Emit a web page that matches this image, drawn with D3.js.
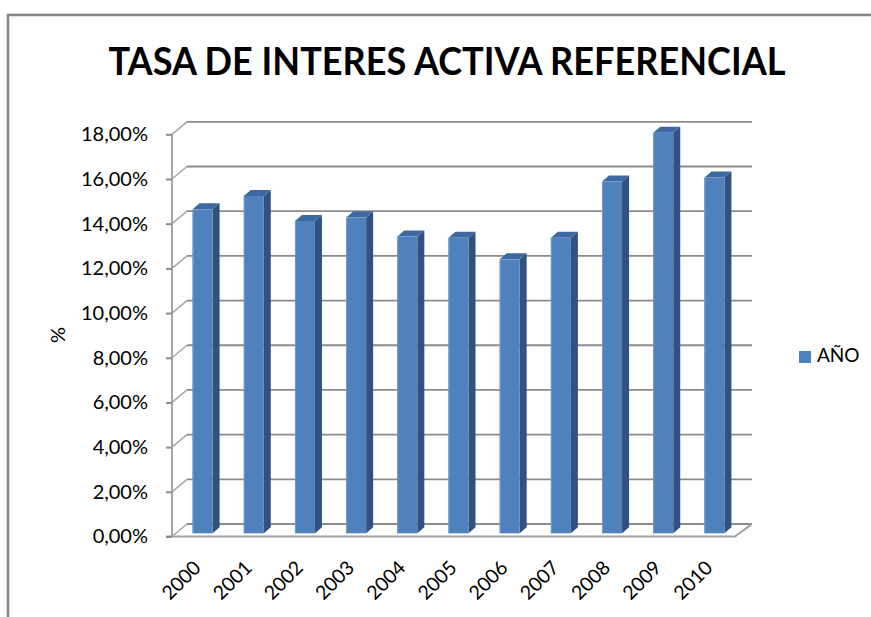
<!DOCTYPE html>
<html>
<head>
<meta charset="utf-8">
<script src="https://cdn.jsdelivr.net/npm/d3@7"></script>
<style>
  body { margin: 0; background: #fff; }
  text { font-family: Lato, "Open Sans", sans-serif; fill: #000; }
</style>
</head>
<body>
<div id="chart"></div>
<script>
// data
const years = ["2000", "2001", "2002", "2003", "2004", "2005", "2006", "2007", "2008", "2009", "2010"];
const rates = [14.50, 15.10, 13.98, 14.13, 13.28, 13.23, 12.26, 13.23, 15.74, 17.93, 15.92];
const yTicks = [0, 2, 4, 6, 8, 10, 12, 14, 16, 18];
const seriesName = "AÑO";
const chartTitle = "TASA DE INTERES ACTIVA REFERENCIAL";
const yTitle = "%";

const width = 871, height = 617;
const depth = { dx: 15, dy: -12.5 };   // back wall offset
const bar = { w: 20, side: 7, top: -6, sx: 5, sy: -3.2 };

const svg = d3.select("#chart").append("svg")
  .attr("width", width)
  .attr("height", height);

// outer chart border (only top and left are visible)
svg.append("path")
  .attr("d", `M8,${height} V15 H${width}`)
  .attr("fill", "none")
  .attr("stroke", "#868686")
  .attr("stroke-width", 2.5);

svg.append("text")
  .attr("x", 447)
  .attr("y", 75)
  .attr("text-anchor", "middle")
  .attr("font-size", 38)
  .attr("font-weight", "bold")
  .attr("textLength", 677)
  .attr("lengthAdjust", "spacingAndGlyphs")
  .text(chartTitle);

let x = d3.scaleBand()
  .domain(years)
  .range([172, 735]);

let y = d3.scaleLinear()
  .domain([0, 18])
  .range([536.5, 134.3]);

// back wall gridlines + side wall diagonals
let grid = svg.append("g");
for (let t of yTicks) {
  let yf = y(t);
  grid.append("path")
    .attr("d", `M172,${yf} L${172 + depth.dx},${yf + depth.dy}`)
    .attr("fill", "none")
    .attr("stroke", "#a6a6a6")
    .attr("stroke-width", 1.5);
  grid.append("line")
    .attr("x1", 172 + depth.dx).attr("x2", 735 + depth.dx + 2)
    .attr("y1", yf + depth.dy).attr("y2", yf + depth.dy)
    .attr("stroke", "#8c8c8c")
    .attr("stroke-width", 1.8);
}

// floor front edge + right edge
grid.append("path")
  .attr("d", `M166,${y(0)} H735 L${735 + depth.dx + 2},${y(0) + depth.dy}`)
  .attr("fill", "none")
  .attr("stroke", "#a0a0a0")
  .attr("stroke-width", 2);

// front vertical axis line
grid.append("line")
  .attr("x1", 172).attr("x2", 172)
  .attr("y1", y(18)).attr("y2", y(0))
  .attr("stroke", "#a6a6a6")
  .attr("stroke-width", 2);

// y axis ticks + labels
const fmt = d3.formatLocale({ decimal: ",", thousands: ".", grouping: [3], currency: ["", ""] }).format(".2f");
let yAxis = svg.append("g")
  .attr("transform", "translate(172,0)")
  .call(d3.axisLeft(y).tickValues(yTicks).tickSize(6).tickPadding(18).tickFormat(d => fmt(d) + "%"));
yAxis.select(".domain").remove();
yAxis.selectAll(".tick line").attr("stroke", "#8c8c8c").attr("stroke-width", 2);
yAxis.selectAll(".tick text")
  .attr("font-size", 20)
  .attr("font-family", "Lato, sans-serif")
  .attr("fill", "#000");

// bars (3D look)
let bars = svg.append("g");
years.forEach((yr, i) => {
  let x0 = x(yr) + x.bandwidth() / 2 - bar.w / 2 + bar.sx;
  let x1 = x0 + bar.w;
  let yb = y(0) + bar.sy;
  let yt = y(rates[i]) + bar.sy;
  bars.append("polygon")
    .attr("points", [[x1, yt], [x1 + bar.side, yt + bar.top], [x1 + bar.side, yb + bar.top], [x1, yb]].join(" "))
    .attr("fill", "#2f5281");
  bars.append("polygon")
    .attr("points", [[x0, yt], [x0 + bar.side, yt + bar.top], [x1 + bar.side, yt + bar.top], [x1, yt]].join(" "))
    .attr("fill", "#3d68a2");
  bars.append("rect")
    .attr("x", x0).attr("y", yt)
    .attr("width", bar.w).attr("height", yb - yt)
    .attr("fill", "#4f81bd");
  bars.append("line")
    .attr("x1", x0 + 0.5).attr("x2", x0 + 0.5)
    .attr("y1", yt).attr("y2", yb)
    .attr("stroke", "#6f9ad0")
    .attr("stroke-width", 1);
});

// x axis labels
let xAxis = svg.append("g")
  .attr("transform", `translate(0,${y(0)})`)
  .call(d3.axisBottom(x).tickSize(0));
xAxis.select(".domain").remove();
xAxis.selectAll(".tick text")
  .attr("font-size", 19.5)
  .attr("font-family", "Lato, sans-serif")
  .attr("fill", "#000")
  .attr("text-anchor", "end")
  .attr("x", 0).attr("y", 0).attr("dy", 0)
  .attr("transform", "translate(4.4,32.5) rotate(-45)");

// y axis title
svg.append("text")
  .attr("transform", "translate(65,335) rotate(-90)")
  .attr("text-anchor", "middle")
  .attr("font-size", 20)
  .text(yTitle);

// legend
svg.append("rect")
  .attr("x", 799).attr("y", 351)
  .attr("width", 12).attr("height", 12)
  .attr("fill", "#4f81bd");
svg.append("text")
  .attr("x", 817).attr("y", 357)
  .attr("dominant-baseline", "middle")
  .attr("font-size", 19)
  .text(seriesName);
</script>
</body>
</html>
